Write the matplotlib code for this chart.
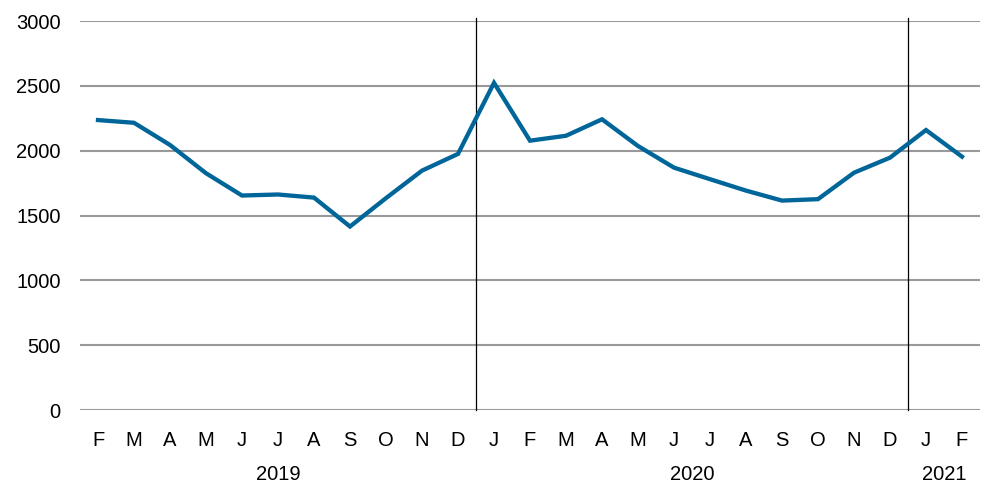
import matplotlib
matplotlib.use("Agg")
import matplotlib.pyplot as plt
import matplotlib.transforms as mtransforms

months = ["F", "M", "A", "M", "J", "J", "A", "S", "O", "N", "D",
          "J", "F", "M", "A", "M", "J", "J", "A", "S", "O", "N", "D",
          "J", "F"]
values = [2236, 2215, 2044, 1826, 1654, 1662, 1638, 1415, 1634, 1846, 1975,
          2523, 2077, 2115, 2242, 2036, 1869, 1780, 1692, 1615, 1626, 1830, 1946,
          2159, 1954]
years = ["2019", "2020", "2021"]
year_centers = [5, 16.5, 23.5]
year_dividers = [10.5, 22.5]
yticks = [0, 500, 1000, 1500, 2000, 2500, 3000]

plt.rcParams['font.family'] = ['Liberation Sans', 'DejaVu Sans']

fig = plt.figure(figsize=(9.9, 4.87), dpi=100)
ax = fig.add_axes([80/990, 1 - 410/487, 900/990, (410 - 21)/487])

x = list(range(len(months)))
ax.set_axisbelow(True)
for yv in yticks:
    ax.axhline(yv, color='#999999', lw=1.5, zorder=1)

ax.plot(x, values, color='#00669A', lw=3.1, solid_joinstyle='miter', zorder=3)

trans = mtransforms.blended_transform_factory(ax.transData, ax.transAxes)
for xd in year_dividers:
    ax.plot([xd, xd], [0, 1.008], color='black', lw=0.9, transform=trans,
            clip_on=False, zorder=2)

ax.set_xlim(-0.5, len(months) - 0.5)
ax.set_ylim(0, 3000)
ax.set_yticks(yticks)
ax.set_yticklabels([str(v) for v in yticks])
ax.set_xticks(x)
ax.set_xticklabels(months)
ax.tick_params(axis='both', length=0, labelsize=14.5, colors='black')
ax.tick_params(axis='y', pad=14)
ax.tick_params(axis='x', pad=15)
for s in ax.spines.values():
    s.set_visible(False)

ytrans = mtransforms.blended_transform_factory(ax.transData, fig.transFigure)
for yl, xc in zip(years, year_centers):
    ax.text(xc, 1 - 474/487, yl, transform=ytrans, ha='center', va='center',
            fontsize=14.5)

fig.savefig("out.png", dpi=100)
